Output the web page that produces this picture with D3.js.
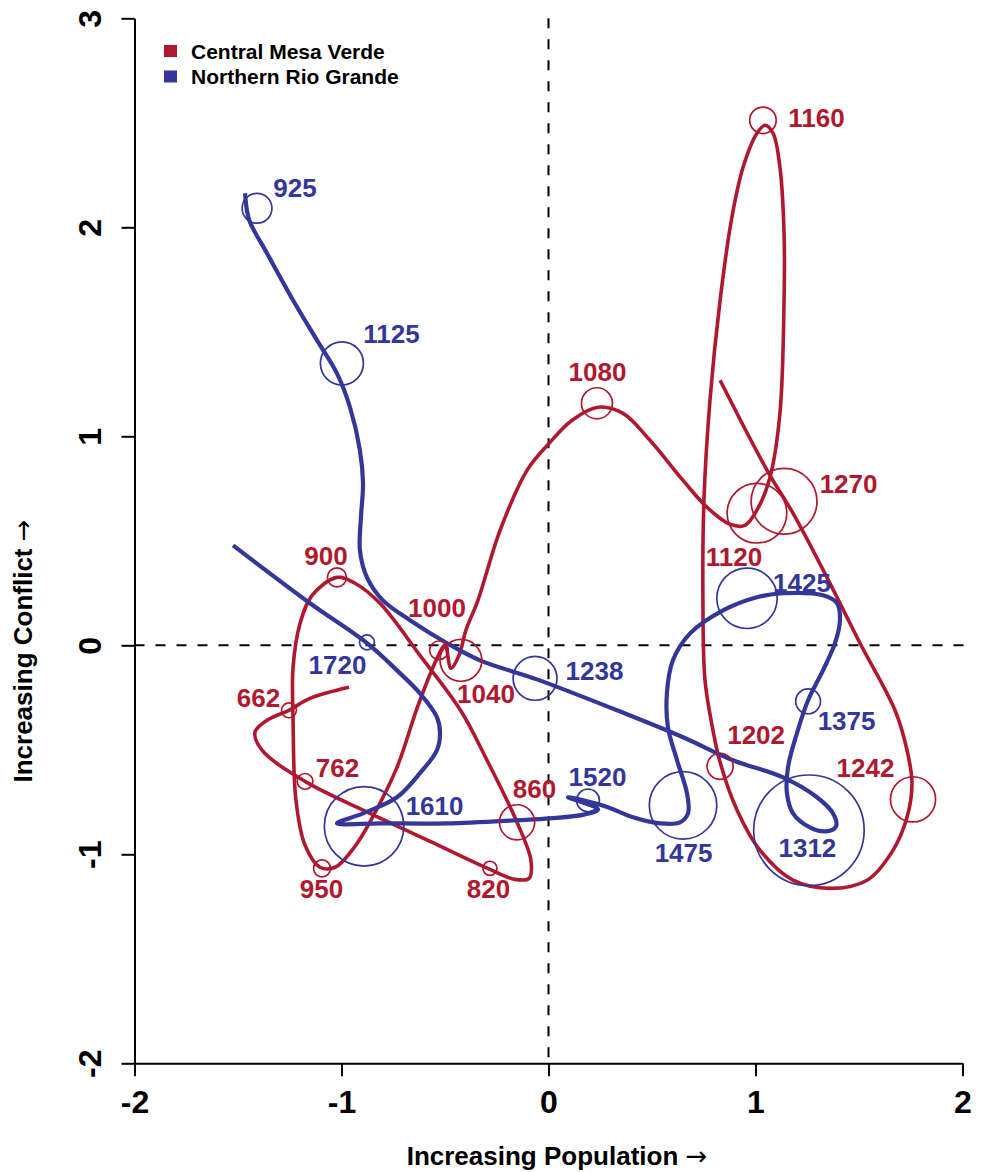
<!DOCTYPE html>
<html>
<head>
<meta charset="utf-8">
<script src="https://cdn.jsdelivr.net/npm/d3@7"></script>
<style>
  html, body { margin: 0; padding: 0; background: #fff; }
  svg { display: block; font-family: "Liberation Sans", Arial, Helvetica, sans-serif; }
</style>
</head>
<body>
<svg id="chart" width="981" height="1172"></svg>
<script>
// ---- Data -------------------------------------------------------------
const xTicks = [-2, -1, 0, 1, 2];
const yTicks = [-2, -1, 0, 1, 2, 3];
const seriesNames = ["Central Mesa Verde", "Northern Rio Grande"];

// Central Mesa Verde: dated positions and their spread (axis units)
const cmvYears  = [662, 762, 820, 860, 900, 950, 1000, 1040, 1080, 1120, 1160, 1202, 1242, 1270];
const cmvX      = [-1.254, -1.176, -0.283, -0.152, -1.022, -1.094, -0.529, -0.423, 0.234, 1.007, 1.036, 0.829, 1.761, 1.138];
const cmvY      = [-0.311, -0.651, -1.067, -0.847, 0.325, -1.067, -0.024, -0.072, 1.158, 0.632, 2.512, -0.579, -0.737, 0.689];
const cmvSpread = [0.036, 0.038, 0.034, 0.085, 0.046, 0.041, 0.045, 0.101, 0.075, 0.144, 0.064, 0.063, 0.109, 0.159];

// Central Mesa Verde smoothed trajectory (population, conflict)
const cmvTrack = [
  [-0.964,-0.201],[-1.152,-0.254],[-1.254,-0.311],[-1.360,-0.359],[-1.418,-0.416],[-1.384,-0.502],
  [-1.176,-0.651],[-0.862,-0.804],[-0.572,-0.938],[-0.283,-1.072],[-0.162,-1.120],[-0.094,-1.115],
  [-0.085,-1.029],[-0.152,-0.847],[-0.297,-0.550],[-0.425,-0.311],[-0.621,-0.048],[-0.814,0.201],
  [-0.935,0.297],[-1.022,0.325],[-1.142,0.239],[-1.200,0.105],[-1.234,-0.105],[-1.234,-0.359],
  [-1.220,-0.742],[-1.176,-0.957],[-1.104,-1.062],[-1.031,-1.062],[-0.935,-0.962],[-0.853,-0.828],
  [-0.732,-0.584],[-0.630,-0.287],[-0.534,-0.053],[-0.500,0.000],[-0.471,-0.110],[-0.432,-0.048],
  [-0.399,0.072],[-0.341,0.215],[-0.234,0.550],[-0.104,0.837],[0.007,0.971],[0.114,1.077],
  [0.239,1.139],[0.360,1.110],[0.490,0.981],[0.650,0.789],[0.766,0.660],[0.877,0.579],
  [0.949,0.574],[1.012,0.656],[1.070,0.804],[1.118,1.110],[1.138,1.651],[1.138,1.971],
  [1.118,2.287],[1.085,2.450],[1.046,2.488],[1.007,2.450],[0.940,2.287],[0.886,2.048],
  [0.829,1.651],[0.780,1.172],[0.751,0.694],[0.746,0.215],[0.756,-0.167],[0.790,-0.383],
  [0.829,-0.560],[0.911,-0.789],[1.022,-0.981],[1.181,-1.124],[1.360,-1.163],[1.539,-1.124],
  [1.664,-0.981],[1.732,-0.823],[1.756,-0.660],[1.732,-0.502],[1.674,-0.311],[1.505,0.010],
  [1.345,0.325],[1.181,0.632],[1.056,0.837],[0.829,1.268]
];

// Northern Rio Grande: dated positions and their spread (axis units)
const nrgYears  = [925, 1125, 1238, 1312, 1375, 1425, 1475, 1520, 1610, 1720];
const nrgX      = [-1.408, -0.998, -0.065, 1.258, 1.254, 0.959, 0.650, 0.191, -0.891, -0.877];
const nrgY      = [2.091, 1.349, -0.158, -0.885, -0.268, 0.225, -0.766, -0.742, -0.866, 0.014];
const nrgSpread = [0.072, 0.104, 0.106, 0.267, 0.060, 0.146, 0.163, 0.055, 0.192, 0.036];

// Northern Rio Grande smoothed trajectory (population, conflict)
const nrgTrack = [
  [-1.466,2.163],[-1.457,2.081],[-1.442,2.024],[-1.360,1.876],[-1.234,1.651],[-1.118,1.459],
  [-1.022,1.301],[-0.959,1.139],[-0.911,0.933],[-0.896,0.775],[-0.906,0.612],[-0.911,0.455],
  [-0.877,0.325],[-0.800,0.215],[-0.669,0.120],[-0.490,0.010],[-0.331,-0.072],[-0.056,-0.163],
  [0.331,-0.311],[0.650,-0.440],[0.891,-0.550],[1.133,-0.632],[1.297,-0.727],[1.374,-0.804],
  [1.389,-0.866],[1.341,-0.890],[1.263,-0.871],[1.181,-0.804],[1.152,-0.708],[1.157,-0.584],
  [1.200,-0.421],[1.254,-0.263],[1.326,-0.120],[1.384,0.010],[1.408,0.120],[1.394,0.201],
  [1.326,0.239],[1.133,0.249],[1.007,0.230],[0.843,0.167],[0.684,0.057],[0.601,-0.072],
  [0.572,-0.230],[0.577,-0.392],[0.621,-0.550],[0.669,-0.708],[0.674,-0.804],[0.635,-0.847],
  [0.539,-0.852],[0.408,-0.823],[0.273,-0.770],[0.094,-0.727],[0.239,-0.785],[0.176,-0.809],
  [0.007,-0.828],[-0.152,-0.837],[-0.490,-0.852],[-0.814,-0.852],[-1.022,-0.852],[-0.896,-0.804],
  [-0.732,-0.727],[-0.621,-0.612],[-0.539,-0.502],[-0.524,-0.421],[-0.539,-0.344],[-0.621,-0.230],
  [-0.732,-0.120],[-0.877,0.010],[-1.152,0.201],[-1.524,0.478]
];

// ---- Layout ------------------------------------------------------------
const RED = "#b0182f";
const BLUE = "#33379a";

// label nudges (px) from each dated point: [dx, dy to baseline]
const cmvLabelNudge = {
  662: [-30.5, -3], 762: [32.5, -4], 820: [-1.5, 30], 860: [17.5, -24], 900: [-11, -12],
  950: [-0.5, 30], 1000: [-2, -33], 1040: [25, 43], 1080: [0.5, -22], 1120: [-23, 53],
  1160: [53.5, 7], 1202: [36, -22], 1242: [-47.5, -22], 1270: [64.5, -8]
};
const nrgLabelNudge = {
  925: [38, -11], 1125: [49.5, -20], 1238: [59.5, 2], 1312: [-1.5, 27], 1375: [38.5, 29],
  1425: [55, -6], 1475: [0.5, 57], 1520: [9.5, -14], 1610: [70.5, -11], 1720: [-29.5, 32]
};

const svg = d3.select("#chart");

const x = d3.scaleLinear().domain([-2, 2]).range([134.5, 962.5]);
const y = d3.scaleLinear().domain([-2, 3]).range([1063.3, 18.3]);
const unitPx = x(1) - x(0);
const r = d3.scaleLinear().domain([0, 1]).range([0, unitPx]);

// reference lines through the origin
svg.append("line")
  .attr("x1", x(-2)).attr("x2", x(2.015))
  .attr("y1", y(0)).attr("y2", y(0))
  .attr("stroke", "#000").attr("stroke-width", 2)
  .attr("stroke-dasharray", "10,11");
svg.append("line")
  .attr("x1", x(0)).attr("x2", x(0))
  .attr("y1", y(3)).attr("y2", y(-2))
  .attr("stroke", "#000").attr("stroke-width", 2)
  .attr("stroke-dasharray", "10,11");

// axes
const signed = d => d < 0 ? "-" + Math.abs(d) : String(d);

const xAxis = svg.append("g")
  .attr("transform", `translate(0,${y(-2)})`)
  .call(d3.axisBottom(x).tickValues(xTicks).tickSize(13).tickSizeOuter(0));
xAxis.select(".domain").attr("stroke-width", 2);
xAxis.selectAll(".tick line").attr("stroke-width", 2);
xAxis.selectAll(".tick text")
  .attr("y", 50).attr("dy", 0)
  .attr("font-size", 32).attr("font-weight", "bold")
  .attr("font-family", "Liberation Sans, Arial, Helvetica, sans-serif")
  .attr("fill", "#000")
  .text(signed);

const yAxis = svg.append("g")
  .attr("transform", `translate(${x(-2)},0)`)
  .call(d3.axisLeft(y).tickValues(yTicks).tickSize(13).tickSizeOuter(0));
yAxis.select(".domain").attr("stroke-width", 2);
yAxis.selectAll(".tick line").attr("stroke-width", 2);
yAxis.selectAll(".tick text")
  .attr("x", null).attr("dy", 0)
  .attr("text-anchor", "middle")
  .attr("transform", "translate(-33.5,0) rotate(-90)")
  .attr("font-size", 32).attr("font-weight", "bold")
  .attr("font-family", "Liberation Sans, Arial, Helvetica, sans-serif")
  .attr("fill", "#000")
  .text(signed);

// axis titles (arrow set in a font with a long thin arrow)
function axisTitle(sel, label) {
  sel.attr("text-anchor", "middle")
    .attr("font-size", 26).attr("font-weight", "bold");
  sel.append("tspan").text(label + " ");
  sel.append("tspan")
    .attr("font-family", "DejaVu Sans, sans-serif")
    .attr("font-weight", "normal")
    .text("\u2192");
}
svg.append("text")
  .attr("x", 557).attr("y", 1165)
  .call(axisTitle, "Increasing Population");
svg.append("text")
  .attr("transform", "translate(32,651) rotate(-90)")
  .call(axisTitle, "Increasing Conflict");

// trajectories
const line = d3.line()
  .x(d => x(d[0])).y(d => y(d[1]))
  .curve(d3.curveCatmullRom.alpha(0.5));

svg.append("path").datum(cmvTrack)
  .attr("d", line).attr("fill", "none")
  .attr("stroke", RED).attr("stroke-width", 3.6)
  .attr("stroke-linejoin", "round").attr("stroke-linecap", "butt");
svg.append("path").datum(nrgTrack)
  .attr("d", line).attr("fill", "none")
  .attr("stroke", BLUE).attr("stroke-width", 4.2)
  .attr("stroke-linejoin", "round").attr("stroke-linecap", "butt");

// dated points with spread circles and year labels
function drawPoints(years, xs, ys, spread, color, nudge) {
  const pts = years.map((yr, i) => ({ yr, x: xs[i], y: ys[i], s: spread[i] }));
  const g = svg.append("g");
  g.selectAll("circle").data(pts).join("circle")
    .attr("cx", d => x(d.x)).attr("cy", d => y(d.y))
    .attr("r", d => r(d.s))
    .attr("fill", "none").attr("stroke", color).attr("stroke-width", 1.7);
  g.selectAll("text").data(pts).join("text")
    .attr("x", d => x(d.x) + nudge[d.yr][0])
    .attr("y", d => y(d.y) + nudge[d.yr][1])
    .attr("text-anchor", "middle")
    .attr("font-size", 26).attr("font-weight", "bold")
    .attr("fill", color)
    .text(d => d.yr);
}
drawPoints(cmvYears, cmvX, cmvY, cmvSpread, RED, cmvLabelNudge);
drawPoints(nrgYears, nrgX, nrgY, nrgSpread, BLUE, nrgLabelNudge);

// legend
const legend = svg.append("g");
[RED, BLUE].forEach((c, i) => {
  legend.append("rect")
    .attr("x", 164).attr("y", 45 + i * 25.5)
    .attr("width", 13).attr("height", 12)
    .attr("fill", c);
  legend.append("text")
    .attr("x", 191).attr("y", 59 + i * 25)
    .attr("font-size", 21).attr("font-weight", "bold")
    .attr("fill", "#000")
    .text(seriesNames[i]);
});
</script>
</body>
</html>
